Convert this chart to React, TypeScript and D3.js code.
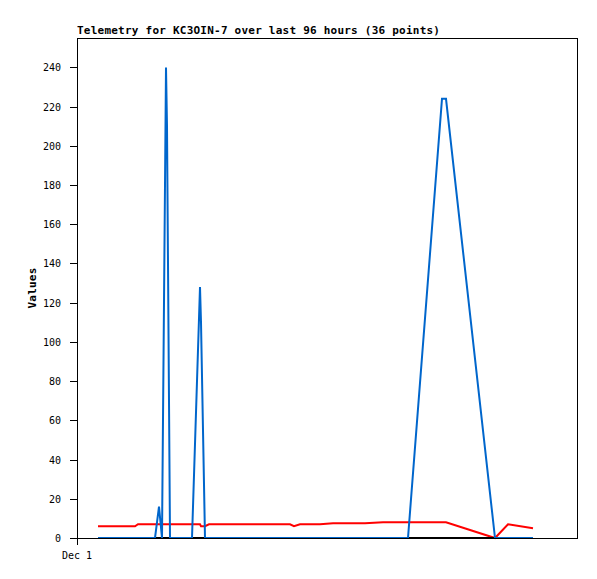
import React from "react";
import * as d3 from "d3";

const WIDTH = 597;
const HEIGHT = 579;
const MARGIN = { left: 77, right: 20, top: 38, bottom: 41 };

const TITLE = "Telemetry for KC3OIN-7 over last 96 hours (36 points)";
const Y_LABEL = "Values";

// hours after Dec 1 00:00 for each sample
const hours = [
  4.62, 7.26, 9.9, 12.76, 13.42, 17.16, 18.04, 18.7, 19.58, 19.8, 20.46, 22.66,
  25.3, 27.06, 27.28, 28.16, 29.04, 33.66, 38.06, 42.46, 46.86, 47.74, 49.06,
  52.36, 53.46, 56.32, 60.06, 63.36, 67.32, 69.96, 72.82, 80.3, 81.18, 91.96,
  94.82, 100.32,
];

const blueValues = [
  0, 0, 0, 0, 0, 0, 16, 0, 240, 210, 0, 0,
  0, 128, 110, 0, 0, 0, 0, 0, 0, 0, 0,
  0, 0, 0, 0, 0, 0, 0, 0, 224, 224, 0,
  0, 0,
];

const redValues = [
  6, 6, 6, 6, 7, 7, 7, 7, 7, 7, 7, 7,
  7, 7, 6, 6, 7, 7, 7, 7, 7, 6, 7,
  7, 7, 7.5, 7.5, 7.5, 8, 8, 8, 8, 8, 0,
  7, 5,
];

const blackValues = [
  0, 0, 0, 0, 0, 0, 0, 0, 0, 0, 0, 0,
  0, 0, 0, 0, 0, 0, 0, 0, 0, 0, 0,
  0, 0, 0, 0, 0, 0, 0, 0, 0, 0, 0,
  0, 0,
];

const yTicks = [0, 20, 40, 60, 80, 100, 120, 140, 160, 180, 200, 220, 240];
const Y_MAX = 255;
const START = new Date(2023, 11, 1, 0, 0, 0);
const SPAN_HOURS = 110;
const xTicks = [START];

const FONT = "'DejaVu Sans Mono', 'Liberation Mono', monospace";

export default function App() {
  const iw = WIDTH - MARGIN.left - MARGIN.right;
  const ih = HEIGHT - MARGIN.top - MARGIN.bottom;
  const x = d3
    .scaleTime()
    .domain([START, d3.timeHour.offset(START, SPAN_HOURS)])
    .range([MARGIN.left, MARGIN.left + iw]);
  const y = d3
    .scaleLinear()
    .domain([0, Y_MAX])
    .range([MARGIN.top + ih, MARGIN.top]);

  const dates = hours.map((h) => new Date(START.getTime() + h * 3600 * 1000));
  const line = d3
    .line<number>()
    .x((_, i) => x(dates[i]))
    .y((v) => y(v));

  const fmt = d3.timeFormat("%b %-d");
  const series = [
    { values: redValues, color: "#ff0000" },
    { values: blackValues, color: "#000000" },
    { values: blueValues, color: "#0066cc" },
  ];

  return (
    <svg
      width={WIDTH}
      height={HEIGHT}
      style={{ position: "absolute", left: 0, top: 0, background: "#fff" }}
    >
      <rect x={0} y={0} width={WIDTH} height={HEIGHT} fill="#fff" />
      <text
        x={MARGIN.left}
        y={34}
        fontFamily={FONT}
        fontWeight="bold"
        fontSize={11}
        letterSpacing={0.23}
        fill="#000"
      >
        {TITLE}
      </text>
      <text
        transform={`translate(36, ${MARGIN.top + ih / 2}) rotate(-90)`}
        textAnchor="middle"
        fontFamily={FONT}
        fontWeight="bold"
        fontSize={11}
        letterSpacing={0.23}
        fill="#000"
      >
        {Y_LABEL}
      </text>
      {yTicks.map((t) => (
        <g key={t}>
          <line
            x1={MARGIN.left - 7}
            x2={MARGIN.left}
            y1={Math.round(y(t)) + 0.5}
            y2={Math.round(y(t)) + 0.5}
            stroke="#000"
            strokeWidth={1}
          />
          <text
            x={61}
            y={Math.round(y(t)) + 4}
            textAnchor="end"
            fontFamily={FONT}
            fontSize={10}
            fill="#000"
          >
            {t}
          </text>
        </g>
      ))}
      {xTicks.map((t, i) => (
        <g key={i}>
          <line
            x1={Math.round(x(t)) + 0.5}
            x2={Math.round(x(t)) + 0.5}
            y1={MARGIN.top + ih}
            y2={MARGIN.top + ih + 7}
            stroke="#000"
            strokeWidth={1}
          />
          <text
            x={x(t)}
            y={559}
            textAnchor="middle"
            fontFamily={FONT}
            fontSize={10}
            fill="#000"
          >
            {fmt(t)}
          </text>
        </g>
      ))}
      {series.map((s, i) => (
        <path
          key={i}
          d={line(s.values) ?? ""}
          fill="none"
          stroke={s.color}
          strokeWidth={2}
          strokeLinejoin="miter"
        />
      ))}
      <rect
        x={MARGIN.left + 0.5}
        y={MARGIN.top + 0.5}
        width={iw}
        height={ih}
        fill="none"
        stroke="#000"
        strokeWidth={1}
      />
    </svg>
  );
}
